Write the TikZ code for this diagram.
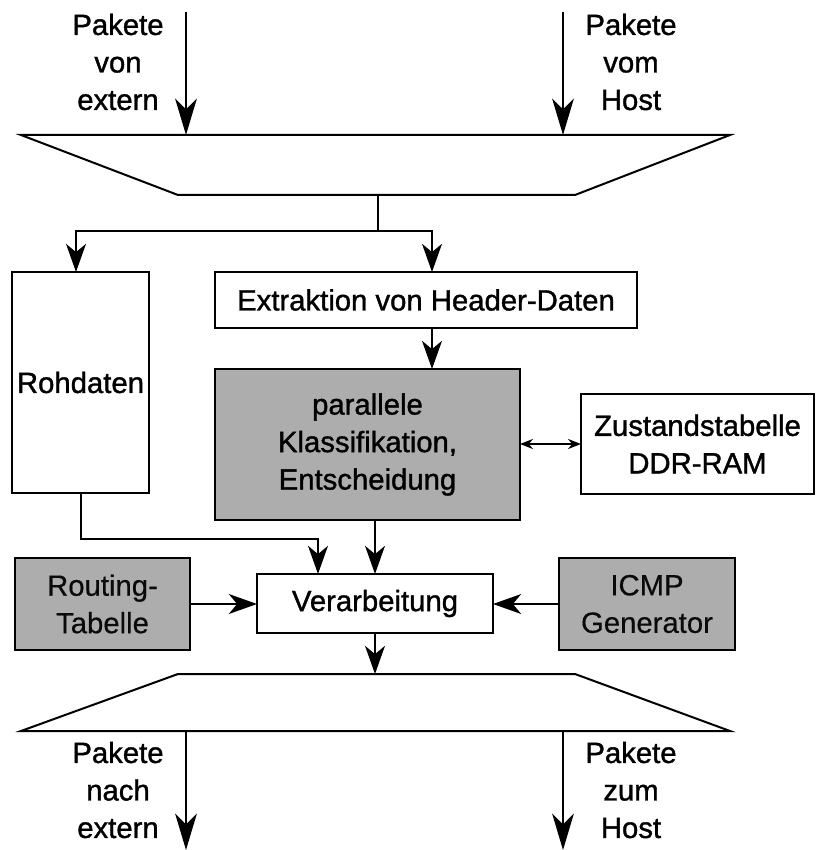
\documentclass[tikz,border=0pt]{standalone}
\usepackage{fontspec}
\setmainfont{Liberation Sans}
\newfontfamily\heavy{Liberation Sans}[FakeBold=1.2]
\newfontfamily\medium{Liberation Sans}[FakeBold=0.4]
\usetikzlibrary{arrows.meta}
\newlength\pxu
\setlength\pxu{0.03cm}
\definecolor{boxgray}{RGB}{173,173,173}
\definecolor{softtext}{RGB}{10,10,10}
\begin{document}
\begin{tikzpicture}[x=0.03cm,y=-0.03cm,
  line width=2\pxu,
  every node/.style={font=\heavy\fontsize{25}{32}\selectfont, align=center, inner sep=0pt, outer sep=0pt},
  block/.style={draw, line width=2\pxu, minimum width=#1\pxu},
  block/.default=100,
  shaded/.style={fill=boxgray},
  soft/.style={font=\medium\fontsize{25}{32}\selectfont, text=softtext},
  bigarr/.style={-{Stealth[length=31pt, width=18.5pt, inset=9pt]}},
  arr/.style={-{Stealth[length=24pt, width=17pt, inset=7pt]}},
  dblarr/.style={{Stealth[length=11pt, width=8.5pt, inset=3.5pt]}-{Stealth[length=11pt, width=8.5pt, inset=3.5pt]}},
  lbl/.style={anchor=center}
]
\useasboundingbox (0,0) rectangle (815,850);

% input multiplexer
\draw (21,135) -- (730,135) -- (575,195) -- (178,195) -- cycle;
\coordinate (muxinL) at (186,135);
\coordinate (muxinR) at (563,135);
\coordinate (muxout) at (378,195);
\coordinate (srcL) at (186,12);
\coordinate (srcR) at (563,12);

\node[lbl] (lblinL) at (118,62) {Pakete\\von\\extern};
\node[lbl] (lblinR) at (631,62) {Pakete\\vom\\Host};

\draw[bigarr] (srcL) -- (muxinL);
\draw[bigarr] (srcR) -- (muxinR);

% processing blocks
\node[block=137, minimum height=221\pxu] (roh) at (80.5,382.5) {Rohdaten};
\node[block=422, minimum height=56\pxu] (extr) at (426,300) {Extraktion von Header-Daten};
\node[block=305, minimum height=151\pxu, shaded] (klass) at (367.5,444.5) {parallele\\Klassifikation,\\Entscheidung};
\node[block=233, minimum height=100\pxu] (zust) at (697.5,444) {Zustandstabelle\\DDR-RAM};
\node[block=236, minimum height=59\pxu] (verarb) at (375,603.5) {Verarbeitung};
\node[block=175, minimum height=92\pxu, shaded, soft] (route) at (102.5,604) {Routing-\\Tabelle};
\node[block=176, minimum height=92\pxu, shaded, soft] (icmp) at (647,604) {ICMP\\Generator};

% split after the input multiplexer
\coordinate (split) at (378,231);
\coordinate (xcol) at (432,0);
\coordinate (rohcol) at (76,0);
\draw (muxout) -- (split);
\draw[arr] (split) -| (roh.north -| rohcol);
\draw[arr] (split) -| (extr.north -| xcol);
\draw[arr] (extr.south -| xcol) -- (klass.north -| xcol);
\draw[dblarr] (klass.east |- zust.west) -- (zust.west);

% into the processing stage
\coordinate (rohbend) at (80.5,539);
\coordinate (rohcol2) at (318,0);
\draw[arr] (roh.south) -- (rohbend) -| (verarb.north -| rohcol2);
\draw[arr] (klass.south -| verarb.north) -- (verarb.north);
\draw[arr] (route.east) -- (verarb.west |- route.east);
\draw[arr] (icmp.west) -- (verarb.east |- icmp.west);

% output demultiplexer
\draw (178,674) -- (575,674) -- (730,731) -- (21,731) -- cycle;
\coordinate (demuxin) at (375,674);
\coordinate (demuxoutL) at (186,731);
\coordinate (demuxoutR) at (563,731);
\coordinate (dstL) at (186,850);
\coordinate (dstR) at (563,850);
\draw[arr] (verarb.south) -- (demuxin);
\draw[bigarr] (demuxoutL) -- (dstL);
\draw[bigarr] (demuxoutR) -- (dstR);

\node[lbl] (lbloutL) at (118,790) {Pakete\\nach\\extern};
\node[lbl] (lbloutR) at (631,790) {Pakete\\zum\\Host};
\end{tikzpicture}
\end{document}
